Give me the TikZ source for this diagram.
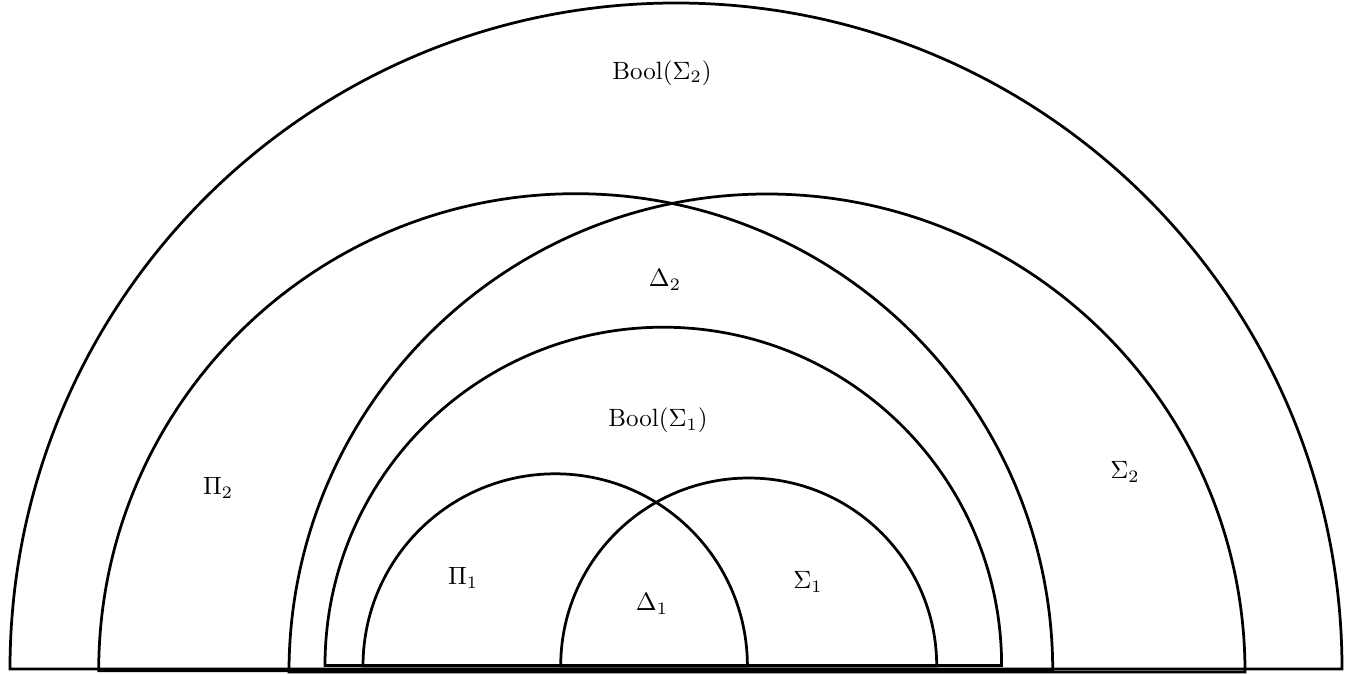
\documentclass[tikz,border=0pt]{standalone}
\begin{document}
\begin{tikzpicture}[x=0.4pt,y=0.4pt,
  semi/.style={line width=1.1pt, line join=miter},
  lab/.style={inner sep=0pt}]
\useasboundingbox (0,0) rectangle (1357,674);
% semicircles, each closed by its diameter
\draw[semi] (10,5) arc[start angle=180,end angle=0,radius=666] -- cycle;
\draw[semi] (98.7,3.3) arc[start angle=180,end angle=0,radius=477] -- cycle;
\draw[semi] (289,2) arc[start angle=180,end angle=0,radius=478] -- cycle;
\draw[semi] (325,8.5) arc[start angle=180,end angle=0,radius=338.3] -- cycle;
\draw[semi] (363,8) arc[start angle=180,end angle=0,radius=192.2] -- cycle;
\draw[semi] (560.7,8) arc[start angle=180,end angle=0,radius=188] -- cycle;
% labels
\node[lab] (b2) at (662,601) {Bool$(\Sigma_2)$};
\node[lab] (d2) at (665,394) {$\Delta_2$};
\node[lab] (b1) at (658,254) {Bool$(\Sigma_1)$};
\node[lab] (p2) at (218,186) {$\Pi_2$};
\node[lab] (s2) at (1125,202) {$\Sigma_2$};
\node[lab] (p1) at (463,96) {$\Pi_1$};
\node[lab] (d1) at (652,70) {$\Delta_1$};
\node[lab] (s1) at (808,92) {$\Sigma_1$};
\end{tikzpicture}
\end{document}
